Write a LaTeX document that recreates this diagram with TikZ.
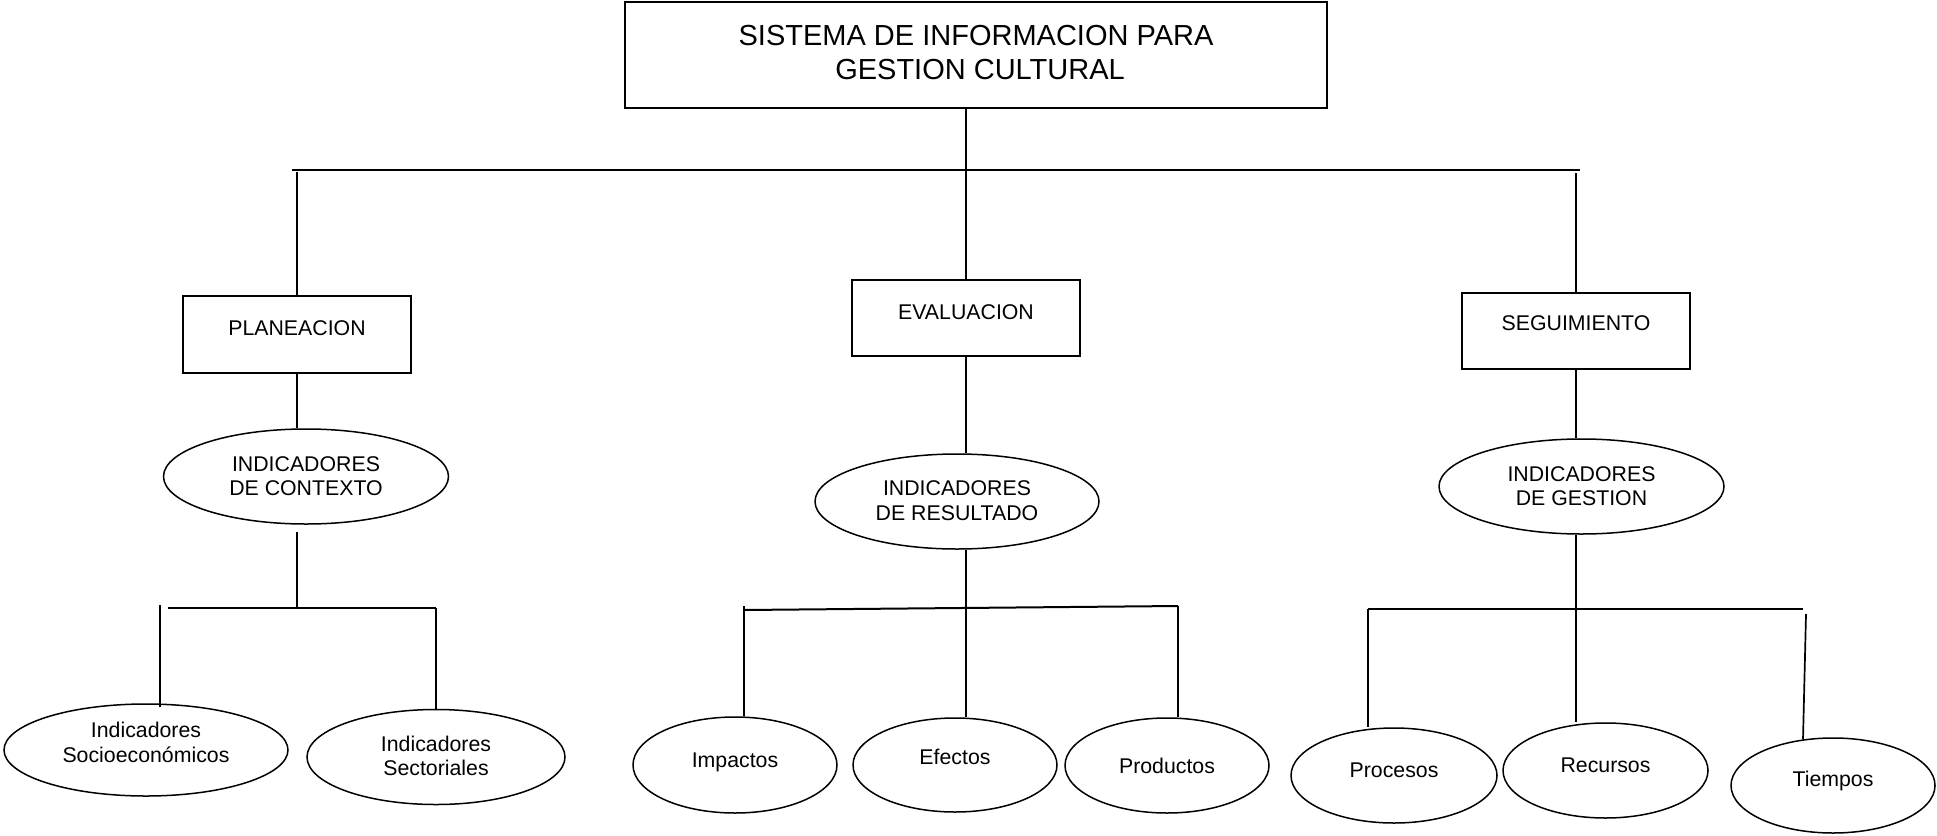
\documentclass[tikz,border=0pt]{standalone}
\usepackage{fontspec}
\setmainfont{Liberation Sans}
\usetikzlibrary{shapes.geometric}
\begin{document}
\begin{tikzpicture}[x=1pt,y=-1pt,
  boxnode/.style={draw,line width=1.8pt,rectangle,inner sep=0pt},
  ovalnode/.style={draw,line width=1.5pt,ellipse,inner sep=0pt},
  conn/.style={line width=1.7pt},
  barline/.style={line width=2.3pt},
  every label/.style={font=\fontsize{21.3}{24.5}\selectfont,align=center,inner sep=0pt},
  one/.style={text height=15.3pt,text depth=0pt}]
\useasboundingbox (0,0) rectangle (1937,835);

% boxes
\node[boxnode,minimum width=702pt,minimum height=106pt,
  label={[yshift=2pt,font=\fontsize{29}{34}\selectfont]center:SISTEMA DE INFORMACION PARA\\\hspace*{8pt}GESTION CULTURAL}] (title) at (976,55) {};
\node[boxnode,minimum width=228pt,minimum height=77pt,label={[one,yshift=6.5pt]center:PLANEACION}] (plan) at (297,334.5) {};
\node[boxnode,minimum width=228pt,minimum height=76pt,label={[one,yshift=6pt]center:EVALUACION}] (eval) at (966,318) {};
\node[boxnode,minimum width=228pt,minimum height=76pt,label={[one,yshift=8pt]center:SEGUIMIENTO}] (seg) at (1576,331) {};

% indicator ellipses
\node[ovalnode,minimum width=285pt,minimum height=95pt,label={[yshift=0.5pt]center:INDICADORES\\DE CONTEXTO}] (ctx) at (306,476.5) {};
\node[ovalnode,minimum width=284pt,minimum height=95pt,label={[yshift=1pt]center:INDICADORES\\DE RESULTADO}] (res) at (957,501.5) {};
\node[ovalnode,minimum width=285pt,minimum height=95pt,label={[yshift=0.5pt]center:INDICADORES\\DE GESTION}] (ges) at (1581.5,486.5) {};

% leaves
\node[ovalnode,minimum width=284pt,minimum height=92pt,label={[yshift=7.5pt]center:Indicadores\\Socioecon\'omicos}] (socio) at (146,750) {};
\node[ovalnode,minimum width=258pt,minimum height=95pt,label={[yshift=1pt]center:Indicadores\\Sectoriales}] (sect) at (436,757) {};
\node[ovalnode,minimum width=204pt,minimum height=96pt,label={[one,yshift=5pt]center:Impactos}] (imp) at (735,765) {};
\node[ovalnode,minimum width=204pt,minimum height=94pt,label={[one,yshift=8pt]center:Efectos}] (efe) at (955,765) {};
\node[ovalnode,minimum width=204pt,minimum height=95pt,label={[one]center:Productos}] (prod) at (1167,765.5) {};
\node[ovalnode,minimum width=206pt,minimum height=95pt,label={[one,yshift=5.5pt]center:Procesos}] (proc) at (1394,775.5) {};
\node[ovalnode,minimum width=205pt,minimum height=95pt,label={[one,yshift=5.5pt]center:Recursos}] (recu) at (1605.5,770.5) {};
\node[ovalnode,minimum width=204pt,minimum height=95pt,label={[one,yshift=6.5pt]center:Tiempos}] (tiem) at (1833,785.5) {};

% coordinates for bars
\coordinate (barL) at (292,170);
\coordinate (barR) at (1580,170);
\coordinate (ctxstem) at (297,532);
\coordinate (bar2L) at (168,608);
\coordinate (bar2R) at (436,608);
\coordinate (soctop) at (160,605);
\coordinate (bar3L) at (744,610);
\coordinate (bar3R) at (1178,606);
\coordinate (imptop) at (744,606);
\coordinate (bar4L) at (1368,609);
\coordinate (bar4R) at (1803,609);
\coordinate (tmtop) at (1806,614);

% level 1
\draw[conn] (title.south -| eval.north) -- (eval.north);
\draw[barline] (barL) -- (barR);
\draw[conn] (plan.north |- 0,172) -- (plan.north);
\draw[conn] (seg.north |- 0,173) -- (seg.north);

% level 2
\draw[conn] (plan.south) -- (plan.south |- ctx.north);
\draw[conn] (eval.south) -- (eval.south |- res.north);
\draw[conn] (seg.south) -- (seg.south |- ges.north);

% contexto branch
\draw[conn] (ctxstem) -- (ctxstem |- bar2L);
\draw[barline,line width=2pt] (bar2L) -- (bar2R);
\draw[conn] (soctop) -- ([yshift=-4pt]soctop |- socio.north);
\draw[conn] (bar2R) -- (bar2R |- sect.north);

% resultado branch
\draw[conn] (eval.south |- res.south) -- (eval.south |- efe.north);
\draw[barline,line width=2pt] (bar3L) -- (bar3R);
\draw[conn] (imptop) -- (imptop |- imp.north);
\draw[conn] (bar3R) -- (bar3R |- prod.north);

% gestion branch
\draw[conn] (seg.south |- ges.south) -- (seg.south |- recu.north);
\draw[barline] (bar4L) -- (bar4R);
\draw[conn] (bar4L) -- (bar4L |- proc.north);
\draw[conn] (tmtop) -- ([xshift=-30pt,yshift=-2pt]tiem.north);
\end{tikzpicture}
\end{document}
